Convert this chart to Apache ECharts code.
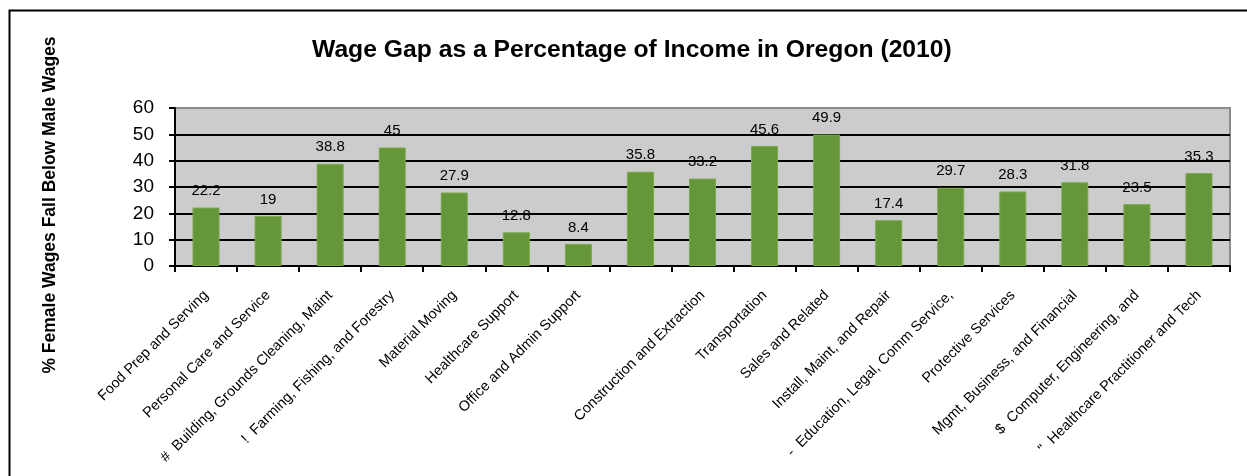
<!DOCTYPE html>
<html>
<head>
<meta charset="utf-8">
<script src="https://cdn.jsdelivr.net/npm/echarts@6/dist/echarts.min.js"></script>
<style>html,body{margin:0;padding:0;background:#fff}#c{width:1247px;height:476px}</style>
</head>
<body>
<div id="c"></div>
<script>
const categories = [
  'Food Prep and Serving',
  'Personal Care and Service',
  '#  Building, Grounds Cleaning, Maint',
  '!  Farming, Fishing, and Forestry',
  'Material Moving',
  'Healthcare Support',
  'Office and Admin Support',
  '',
  'Construction and Extraction',
  'Transportation',
  'Sales and Related',
  'Install, Maint, and Repair',
  '-  Education, Legal, Comm Service,',
  'Protective Services',
  'Mgmt, Business, and Financial',
  '$  Computer, Engineering, and',
  '"  Healthcare Practitioner and Tech'
];
const values = [22.2, 19, 38.8, 45, 27.9, 12.8, 8.4, 35.8, 33.2, 45.6, 49.9, 17.4, 29.7, 28.3, 31.8, 23.5, 35.3];
const titleText = 'Wage Gap as a Percentage of Income in Oregon (2010)';
const yAxisTitle = '% Female Wages Fall Below Male Wages';

const chart = echarts.init(document.getElementById('c'), null, {renderer: 'canvas'});
const font = 'Liberation Sans, Arial, sans-serif';
chart.setOption({
  animation: false,
  textStyle: {fontFamily: font},
  title: {
    text: titleText,
    left: 307,
    top: 33,
    textStyle: {fontFamily: font, fontSize: 24.7, fontWeight: 'bold', color: '#000'}
  },
  graphic: [
    {type: 'rect', left: 7, top: 8, shape: {x: 0, y: 0, width: 1300, height: 600},
     style: {fill: 'none', stroke: '#000', lineWidth: 2}, z: -10},
    {type: 'text', x: 50, y: 205, rotation: Math.PI / 2,
     style: {text: yAxisTitle, fontFamily: font, fontSize: 17.5, fontWeight: 'bold', fill: '#000',
             align: 'center', verticalAlign: 'middle'}}
  ],
  grid: {
    left: 175, right: 17, top: 108, bottom: 210,
    show: true, backgroundColor: '#cccccc', borderColor: '#8c8c8c', borderWidth: 2
  },
  xAxis: {
    type: 'category',
    data: categories,
    axisLine: {lineStyle: {color: '#000', width: 2}},
    axisTick: {show: true, length: 6, lineStyle: {color: '#000', width: 2}},
    axisLabel: {rotate: 45, interval: 0, fontSize: 14.5, color: '#000', margin: 27, fontFamily: font}
  },
  yAxis: {
    type: 'value',
    min: 0, max: 60, interval: 10,
    axisLine: {show: true, lineStyle: {color: '#000', width: 2}},
    axisTick: {show: true, length: 6, lineStyle: {color: '#000', width: 2}},
    axisLabel: {fontSize: 19, color: '#000', margin: 21, fontFamily: font},
    splitLine: {show: true, lineStyle: {color: ['#000','#000','#000','#000','#000','#000','#8c8c8c'], width: 2}}
  },
  series: [{
    type: 'bar',
    data: values,
    barWidth: 27,
    itemStyle: {color: '#66963a', borderColor: '#7aa84e', borderWidth: 1},
    label: {show: true, position: 'top', distance: 9, fontSize: 15, color: '#000', fontFamily: font}
  }]
});
</script>
</body>
</html>
